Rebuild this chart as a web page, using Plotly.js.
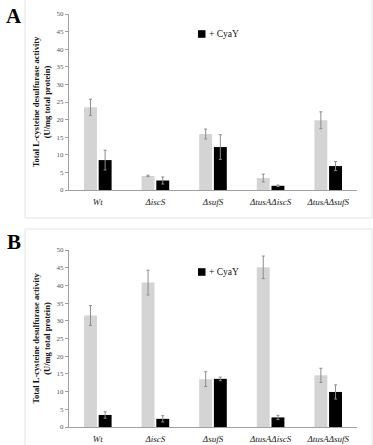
<!DOCTYPE html>
<html>
<head>
<meta charset="utf-8">
<script src="https://cdn.plot.ly/plotly-3.0.1.min.js"></script>
<style>
  html, body { margin: 0; padding: 0; background: #fff; }
  #chart { width: 373px; height: 445px; }
</style>
</head>
<body>
<div id="chart"></div>
<script>
// strains on the x axis
var strains = ['Wt', 'ΔiscS', 'ΔsufS', 'ΔtusAΔiscS', 'ΔtusAΔsufS'];

// panel A
var aControl = [23.5, 4.0, 15.9, 3.4, 19.8];
var aControlErr = [2.3, 0.2, 1.4, 1.1, 2.4];
var aCyaY = [8.5, 2.7, 12.2, 1.2, 6.8];
var aCyaYErr = [2.8, 1.0, 3.5, 0.2, 1.3];

// panel B
var bControl = [31.5, 40.8, 13.5, 45.1, 14.6];
var bControlErr = [2.8, 3.5, 2.1, 3.2, 2.0];
var bCyaY = [3.4, 2.3, 13.6, 2.7, 9.9];
var bCyaYErr = [0.9, 0.9, 0.5, 0.6, 2.0];

var yTitle = 'Total L-cysteine desulfurase activity<br>(U/mg total protein)';
var legendText = '+ CyaY';
var serif = 'Liberation Serif, Times New Roman, serif';
var W = 373, H = 445;

function px(x) { return x / W; }
function py(y) { return (H - y) / H; }

function bars(vals, errs, color, xa, ya) {
  return {
    type: 'bar',
    x: strains,
    y: vals,
    xaxis: xa,
    yaxis: ya,
    showlegend: false,
    marker: {color: color, line: {width: 0}},
    error_y: {type: 'data', array: errs, visible: true, color: '#8c8c8c', thickness: 1, width: 1.5}
  };
}

var data = [
  bars(aControl, aControlErr, '#d4d4d4', 'x', 'y'),
  bars(aCyaY, aCyaYErr, '#000000', 'x', 'y'),
  bars(bControl, bControlErr, '#d4d4d4', 'x2', 'y2'),
  bars(bCyaY, bCyaYErr, '#000000', 'x2', 'y2')
];

function xAxis(anchor, domain) {
  return {
    anchor: anchor,
    domain: domain,
    showline: true,
    linecolor: '#a0a0a0',
    linewidth: 1,
    ticks: '',
    ticklabelstandoff: 3,
    tickfont: {family: serif, size: 9, color: '#222', style: 'italic'},
    showgrid: false,
    zeroline: false,
    fixedrange: true
  };
}

function yAxis(anchor, domain) {
  return {
    anchor: anchor,
    domain: domain,
    range: [0, 50],
    dtick: 5,
    showline: true,
    linecolor: '#a0a0a0',
    linewidth: 1,
    ticks: 'outside',
    ticklen: 3,
    tickcolor: '#a0a0a0',
    tickfont: {family: serif, size: 7, color: '#555'},
    showgrid: false,
    zeroline: false,
    title: {text: yTitle, standoff: 4, font: {family: serif, size: 8.5, color: '#111', weight: 'bold'}},
    fixedrange: true
  };
}

// legend key: small black square followed by its label
function legendKey(yc) {
  return {
    shape: {type: 'rect', xref: 'paper', yref: 'paper', x0: px(198), x1: px(205.5), y0: py(yc + 3.8), y1: py(yc - 3.8),
            fillcolor: '#000', line: {width: 0}},
    label: {text: legendText, xref: 'paper', yref: 'paper', x: px(206.5), y: py(yc), xanchor: 'left', yanchor: 'middle',
            showarrow: false, font: {family: serif, size: 9.5, color: '#111'}}
  };
}
var keyA = legendKey(34);
var keyB = legendKey(272);

var layout = {
  width: W,
  height: H,
  margin: {l: 0, r: 0, t: 0, b: 0},
  paper_bgcolor: '#fff',
  plot_bgcolor: '#fff',
  barmode: 'group',
  bargap: 0.49,
  bargroupgap: 0.12,
  showlegend: false,
  xaxis: xAxis('y', [px(69), px(357)]),
  yaxis: yAxis('x', [py(190), py(14)]),
  xaxis2: xAxis('y2', [px(69), px(357)]),
  yaxis2: yAxis('x2', [py(427), py(250)]),
  shapes: [
    {type: 'rect', xref: 'paper', yref: 'paper', x0: px(25), x1: px(372), y0: py(218), y1: py(-2),
     line: {color: '#e4e4e4', width: 1}},
    {type: 'rect', xref: 'paper', yref: 'paper', x0: px(25), x1: px(372), y0: py(447), y1: py(229),
     line: {color: '#e4e4e4', width: 1}},
    keyA.shape,
    keyB.shape
  ],
  annotations: [
    {text: 'A', xref: 'paper', yref: 'paper', x: px(14), y: py(16), xanchor: 'center', yanchor: 'middle', showarrow: false,
     font: {family: serif, size: 21, color: '#000', weight: 'bold'}},
    {text: 'B', xref: 'paper', yref: 'paper', x: px(14), y: py(242), xanchor: 'center', yanchor: 'middle', showarrow: false,
     font: {family: serif, size: 21, color: '#000', weight: 'bold'}},
    keyA.label,
    keyB.label
  ]
};

Plotly.newPlot('chart', data, layout, {displayModeBar: false, staticPlot: true});
</script>
</body>
</html>
